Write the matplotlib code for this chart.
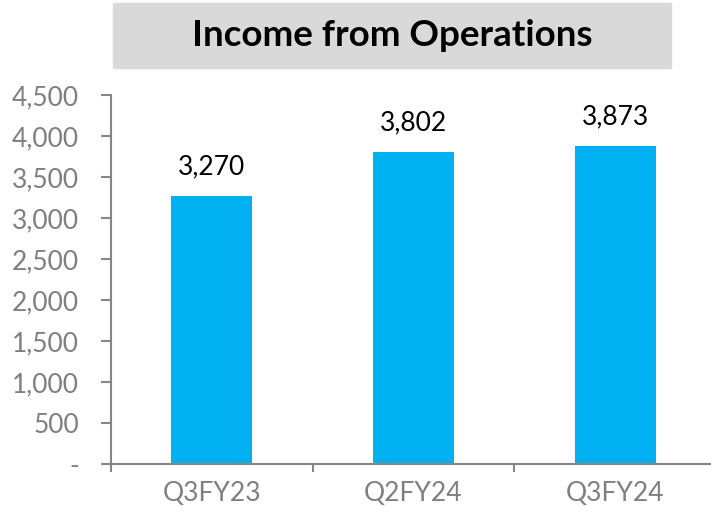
import matplotlib
matplotlib.use("Agg")
import matplotlib.pyplot as plt
from matplotlib.patches import Rectangle
from matplotlib.ticker import FuncFormatter

# данные
periods = ["Q3FY23", "Q2FY24", "Q3FY24"]
income = [3270, 3802, 3873]
y_ticks = [0, 500, 1000, 1500, 2000, 2500, 3000, 3500, 4000, 4500]

plt.rcParams["font.family"] = ["Lato", "DejaVu Sans"]

fig = plt.figure(figsize=(7.11, 5.13), dpi=100)
ax = fig.add_axes([111 / 711, 49 / 513, 605 / 711, 369 / 513])

x = range(len(periods))
ax.bar(x, income, width=0.4, color="#00B0F0")

for xi, v in zip(x, income):
    ax.annotate(f"{v:,}", (xi, v), xytext=(0, 12), textcoords="offset points",
                ha="center", va="bottom", fontsize=19, color="black")

ax.set_xlim(-0.5, 2.5)
ax.set_ylim(0, 4500)
ax.set_yticks(y_ticks)
ax.yaxis.set_major_formatter(FuncFormatter(lambda v, p: "-" if v == 0 else f"{int(v):,}"))
ax.set_xticks(list(x))
ax.set_xticklabels(periods)
ax.set_xticks([-0.5, 0.5, 1.5], minor=True)

axis_grey = "#868686"
for s in ["top", "right"]:
    ax.spines[s].set_visible(False)
for s in ["left", "bottom"]:
    ax.spines[s].set_color(axis_grey)
    ax.spines[s].set_linewidth(1.5)

ax.tick_params(axis="y", direction="out", length=7, width=1.5, color=axis_grey,
               labelcolor="#7f7f7f", labelsize=19, pad=16)
ax.tick_params(axis="x", which="major", length=0, labelcolor="#7f7f7f",
               labelsize=19, pad=12)
ax.tick_params(axis="x", which="minor", direction="out", length=6, width=1.5,
               color=axis_grey)

# заголовок в сером прямоугольнике
fig.patches.append(Rectangle((113 / 711, 1 - 68 / 513), 558 / 711, 65 / 513,
                             transform=fig.transFigure, color="#D9D9D9", zorder=0))
fig.text(392 / 711, 1 - 36 / 513, "Income from Operations", ha="center", va="center",
         fontsize=26.5, fontweight="bold", color="black")

fig.savefig("out.png", dpi=100)
